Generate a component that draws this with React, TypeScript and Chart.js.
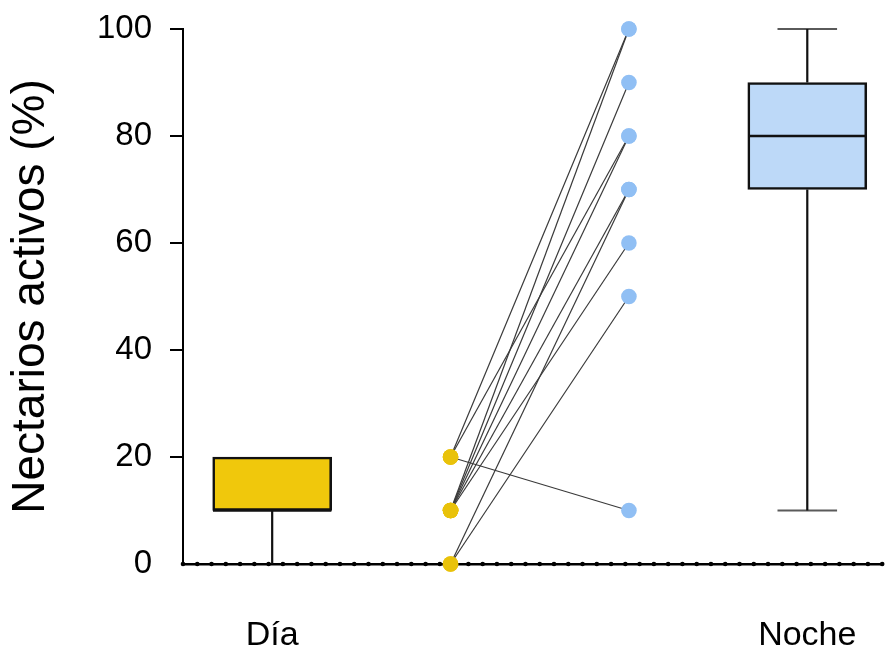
import React, { useEffect, useRef } from "react";
import { Chart, registerables } from "chart.js";

Chart.register(...registerables);

// Categories (x positions 0 and 3), paired columns at 1 and 2
const categories = ["Día", "Noche"];
const categoryX = [0, 3];
const pairedX = [1, 2];

// Box-plot statistics per category
const boxMin = [0, 10];
const boxQ1 = [10, 70];
const boxMedian = [10, 80];
const boxQ3 = [20, 90];
const boxMax = [20, 100];

// Paired observations (Día -> Noche)
const pairedDia = [20, 10, 10, 20, 10, 0, 10, 10, 0, 20];
const pairedNoche = [100, 100, 90, 80, 80, 70, 70, 60, 50, 10];

// Y axis ticks
const yTicks = [0, 20, 40, 60, 80, 100];

const FONT = "'Liberation Sans', Arial, sans-serif";
const boxFill = ["#F0C80C", "#BDD9F8"];
const yellowPt = "#E9C20A";
const bluePt = "#90BFF4";

const BOX_HALF = 0.332;
const CAP_HALF = 0.167;
const X_MIN = -0.5;
const X_MAX = 3.42;
const DOT_STEP = 0.08;

const axisDots = {
  id: "axisDots",
  beforeDatasetsDraw(chart: any) {
    const xs = chart.scales.x;
    const ys = chart.scales.y;
    const ctx = chart.ctx;
    const y = ys.getPixelForValue(0);
    ctx.save();
    ctx.fillStyle = "#000";
    const n = Math.round((X_MAX - X_MIN) / DOT_STEP);
    for (let k = 0; k <= n; k++) {
      const px = xs.getPixelForValue(X_MIN + k * DOT_STEP);
      ctx.beginPath();
      ctx.arc(px, y, 2.3, 0, Math.PI * 2);
      ctx.fill();
    }
    ctx.restore();
  },
};

function zeroPadding(scale: any) {
  scale.paddingTop = 0;
  scale.paddingBottom = 0;
  scale.paddingLeft = 0;
  scale.paddingRight = 0;
}

export default function App() {
  const ref = useRef<HTMLCanvasElement | null>(null);

  useEffect(() => {
    if (!ref.current) return;

    const boxData = categoryX.map((x, i) => ({ x, y: [boxQ1[i], boxQ3[i]] }));

    const whiskerData: any[] = [];
    categoryX.forEach((x, i) => {
      whiskerData.push({ x, y: boxMin[i] }, { x, y: boxQ1[i] }, { x, y: null });
      whiskerData.push({ x, y: boxQ3[i] }, { x, y: boxMax[i] }, { x, y: null });
    });
    const capData: any[] = [];
    categoryX.forEach((x, i) => {
      if (boxMin[i] > 0 && boxMin[i] < boxQ1[i]) {
        capData.push({ x: x - CAP_HALF, y: boxMin[i] }, { x: x + CAP_HALF, y: boxMin[i] }, { x, y: null });
      }
      if (boxMax[i] > boxQ3[i]) {
        capData.push({ x: x - CAP_HALF, y: boxMax[i] }, { x: x + CAP_HALF, y: boxMax[i] }, { x, y: null });
      }
    });
    const medianData: any[] = [];
    categoryX.forEach((x, i) => {
      medianData.push({ x: x - BOX_HALF, y: boxMedian[i] }, { x: x + BOX_HALF, y: boxMedian[i] }, { x, y: null });
    });

    const pairDatasets = pairedDia.map((d, i) => ({
      type: "line" as const,
      data: [
        { x: pairedX[0], y: d },
        { x: pairedX[1], y: pairedNoche[i] },
      ],
      borderColor: "#3a3a3a",
      borderWidth: 1.2,
      pointRadius: 0,
      clip: false as any,
      order: 2,
    }));

    const chart = new Chart(ref.current, {
      type: "line",
      data: {
        datasets: [
          {
            type: "bar",
            data: boxData as any,
            backgroundColor: boxFill,
            borderColor: "#111",
            borderWidth: 2.6,
            borderSkipped: false,
            barThickness: 119,
            grouped: false,
            order: 5,
          } as any,
          {
            type: "line",
            data: whiskerData,
            borderColor: "#111",
            borderWidth: 2.2,
            pointRadius: 0,
            spanGaps: false,
            clip: false as any,
            order: 6,
          },
          {
            type: "line",
            data: capData,
            borderColor: "#5a5a5a",
            borderWidth: 2,
            pointRadius: 0,
            spanGaps: false,
            clip: false as any,
            order: 7,
          },
          {
            type: "line",
            data: medianData,
            borderColor: "#111",
            borderWidth: 2.6,
            pointRadius: 0,
            spanGaps: false,
            clip: false as any,
            order: 3,
          },
          ...pairDatasets,
          {
            type: "line",
            data: pairedDia.map((v) => ({ x: pairedX[0], y: v })),
            showLine: false,
            pointRadius: 7.8,
            pointBackgroundColor: yellowPt,
            pointBorderWidth: 0,
            clip: false as any,
            order: 1,
          },
          {
            type: "line",
            data: pairedNoche.map((v) => ({ x: pairedX[1], y: v })),
            showLine: false,
            pointRadius: 7.8,
            pointBackgroundColor: bluePt,
            pointBorderWidth: 0,
            clip: false as any,
            order: 1,
          },
        ],
      },
      options: {
        animation: false,
        responsive: false,
        maintainAspectRatio: false,
        layout: { padding: { top: 29, right: 3, left: 0, bottom: 0 } },
        plugins: { legend: { display: false }, tooltip: { enabled: false } },
        scales: {
          x: {
            type: "linear",
            min: X_MIN,
            max: X_MAX,
            offset: false,
            afterBuildTicks: (scale: any) => {
              scale.ticks = categoryX.map((v) => ({ value: v }));
            },
            afterFit: (scale: any) => {
              scale.height = 90;
              zeroPadding(scale);
            },
            grid: { display: false, drawTicks: false },
            border: { display: true, color: "#000", width: 2.5 },
            ticks: {
              autoSkip: false,
              maxRotation: 0,
              padding: 51,
              color: "#000",
              font: { family: FONT, size: 34 },
              callback: (v: any) => {
                const idx = categoryX.findIndex((c) => Math.abs(c - Number(v)) < 1e-6);
                return idx >= 0 ? categories[idx] : "";
              },
            },
          },
          y: {
            type: "linear",
            min: 0,
            max: 100,
            afterBuildTicks: (scale: any) => {
              scale.ticks = yTicks.map((v) => ({ value: v }));
            },
            afterFit: (scale: any) => {
              scale.width = 183;
              zeroPadding(scale);
            },
            grid: {
              drawOnChartArea: false,
              tickLength: 13,
              lineWidth: 2,
              color: (c: any) => (c.tick && c.tick.value === 0 ? "rgba(0,0,0,0)" : "#000"),
            },
            border: { display: true, color: "#000", width: 2 },
            ticks: {
              padding: 18,
              color: "#000",
              font: { family: FONT, size: 33 },
            },
            title: {
              display: true,
              text: "Nectarios activos (%)",
              color: "#000",
              font: { family: FONT, size: 46 },
              padding: { top: 4, bottom: 4 },
            },
          },
        },
      },
      plugins: [axisDots],
    });

    return () => chart.destroy();
  }, []);

  return (
    <div style={{ position: "fixed", left: 0, top: 0, width: 890, height: 654, background: "#fff" }}>
      <canvas ref={ref} width={890} height={654} style={{ width: 890, height: 654 }} />
    </div>
  );
}
